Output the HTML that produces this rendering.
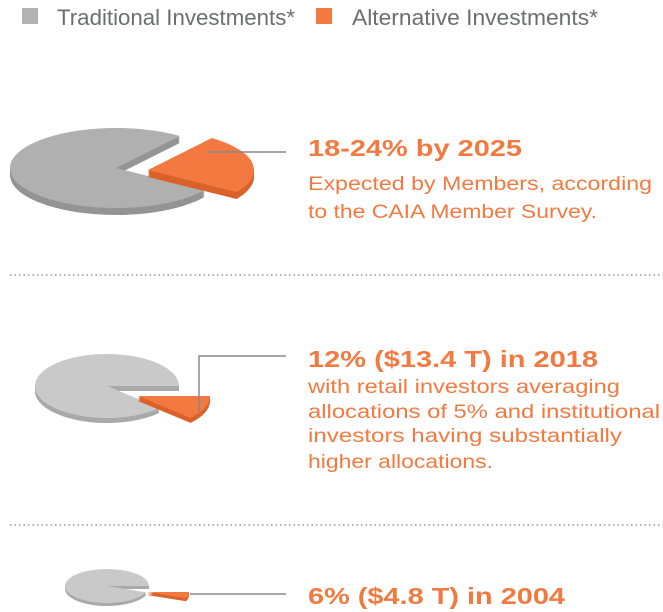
<!DOCTYPE html>
<html><head><meta charset="utf-8"><style>
html,body{margin:0;padding:0;background:#fff;}
svg{display:block;font-family:"Liberation Sans",sans-serif;}
.h{fill:#f27a40;font-weight:bold;font-size:23px;}
.s{fill:#f27a40;font-size:19px;}
.lg{fill:#6d6e71;font-size:22px;}
</style></head><body>
<svg id="c" width="663" height="612" viewBox="0 0 663 612">
<g>
<rect x="22" y="8" width="16" height="16" fill="#b3b3b4"/>
<text class="lg" x="57" y="25" textLength="238" lengthAdjust="spacingAndGlyphs">Traditional Investments*</text>
<rect x="316" y="8" width="16" height="16" fill="#f27a40"/>
<text class="lg" x="352" y="25" textLength="246" lengthAdjust="spacingAndGlyphs">Alternative Investments*</text>
</g>
<g id="pies"></g>
<line x1="10" y1="275" x2="663" y2="275" stroke="#999" stroke-width="1.5" stroke-dasharray="1.5,3"/>
<line x1="10" y1="525" x2="663" y2="525" stroke="#999" stroke-width="1.5" stroke-dasharray="1.5,3"/>
<polyline points="208,152 286,152" fill="none" stroke="#888" stroke-width="1.5"/>
<polyline points="199,412 199,356 286,356" fill="none" stroke="#888" stroke-width="1.5"/>
<polyline points="190,594 286,594" fill="none" stroke="#888" stroke-width="1.5"/>
<g>
<text class="h" x="308" y="156" textLength="214" lengthAdjust="spacingAndGlyphs">18-24% by 2025</text>
<text class="s" x="308" y="190" textLength="344" lengthAdjust="spacingAndGlyphs">Expected by Members, according</text>
<text class="s" x="308" y="218" textLength="289" lengthAdjust="spacingAndGlyphs">to the CAIA Member Survey.</text>
</g>
<g>
<text class="h" x="308" y="367" textLength="290" lengthAdjust="spacingAndGlyphs">12% ($13.4 T) in 2018</text>
<text class="s" x="308" y="393" textLength="312" lengthAdjust="spacingAndGlyphs">with retail investors averaging</text>
<text class="s" x="308" y="418" textLength="352" lengthAdjust="spacingAndGlyphs">allocations of 5% and institutional</text>
<text class="s" x="308" y="442" textLength="314" lengthAdjust="spacingAndGlyphs">investors having substantially</text>
<text class="s" x="308" y="468" textLength="185" lengthAdjust="spacingAndGlyphs">higher allocations.</text>
</g>
<g>
<text class="h" x="308" y="604" textLength="257" lengthAdjust="spacingAndGlyphs">6% ($4.8 T) in 2004</text>
</g>
</svg>
<script>
const years = ["2025","2018","2004"];
const altShare = [24, 12, 6];
// layout (not data)
const layout = [
 {cx:116,cy:168,rx:106,ry:40,d:7,start:-53,ox:32,oy:2,gray:"#b0b0b1",side:"#949495"},
 {cx:107,cy:386,rx:72,ry:32,d:5,start:0,ox:31,oy:10,gray:"#c9c9ca",side:"#a9a9aa"},
 {cx:107,cy:586,rx:42,ry:17,d:3,start:0,ox:40,oy:6,gray:"#c9c9ca",side:"#a9a9aa"}
];
const NS="http://www.w3.org/2000/svg";
const g=document.getElementById('pies');
function wedge(cx,cy,rx,ry,a0,a1){
  const r=Math.PI/180;
  const x0=cx+rx*Math.cos(a0*r),y0=cy+ry*Math.sin(a0*r);
  const x1=cx+rx*Math.cos(a1*r),y1=cy+ry*Math.sin(a1*r);
  const large=(a1-a0)>180?1:0;
  return `M${cx},${cy}L${x0},${y0}A${rx},${ry} 0 ${large} 1 ${x1},${y1}Z`;
}
function add(d,fill,name){
  const p=document.createElementNS(NS,'path');
  p.setAttribute('d',d);p.setAttribute('fill',fill);
  
  
  g.appendChild(p);
}
altShare.forEach((v,i)=>{
  const L=layout[i];
  const sweep=v/100*360;
  const a0=L.start,a1=L.start+sweep;
  for(let k=L.d;k>0;k--) add(wedge(L.cx,L.cy+k,L.rx,L.ry,a1,a0+360),L.side,'traditional-slice-side-'+years[i]);
  add(wedge(L.cx,L.cy,L.rx,L.ry,a1,a0+360),L.gray,'traditional-slice-'+years[i]);
  const cx=L.cx+L.ox,cy=L.cy+L.oy;
  for(let k=L.d;k>0;k--) add(wedge(cx,cy+k,L.rx,L.ry,a0,a1),'#d9622b','alternative-slice-side-'+years[i]);
  add(wedge(cx,cy,L.rx,L.ry,a0,a1),'#f27a40','alternative-slice-'+years[i]);
});
</script>
</body></html>
